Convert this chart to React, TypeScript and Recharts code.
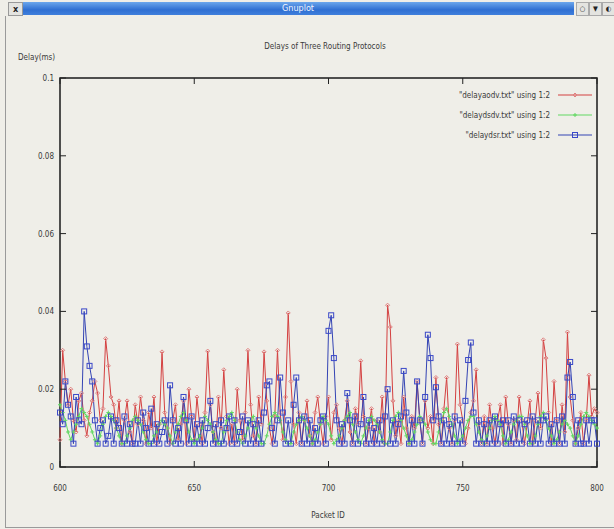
import { LineChart, Line, XAxis, YAxis, ReferenceArea, Legend } from "recharts";

const packetIds = [
  600, 601, 602, 603, 604, 605, 606, 607, 608, 609,
  610, 611, 612, 613, 614, 615, 616, 617, 618, 619,
  620, 621, 622, 623, 624, 625, 626, 627, 628, 629,
  630, 631, 632, 633, 634, 635, 636, 637, 638, 639,
  640, 641, 642, 643, 644, 645, 646, 647, 648, 649,
  650, 651, 652, 653, 654, 655, 656, 657, 658, 659,
  660, 661, 662, 663, 664, 665, 666, 667, 668, 669,
  670, 671, 672, 673, 674, 675, 676, 677, 678, 679,
  680, 681, 682, 683, 684, 685, 686, 687, 688, 689,
  690, 691, 692, 693, 694, 695, 696, 697, 698, 699,
  700, 701, 702, 703, 704, 705, 706, 707, 708, 709,
  710, 711, 712, 713, 714, 715, 716, 717, 718, 719,
  720, 721, 722, 723, 724, 725, 726, 727, 728, 729,
  730, 731, 732, 733, 734, 735, 736, 737, 738, 739,
  740, 741, 742, 743, 744, 745, 746, 747, 748, 749,
  750, 751, 752, 753, 754, 755, 756, 757, 758, 759,
  760, 761, 762, 763, 764, 765, 766, 767, 768, 769,
  770, 771, 772, 773, 774, 775, 776, 777, 778, 779,
  780, 781, 782, 783, 784, 785, 786, 787, 788, 789,
  790, 791, 792, 793, 794, 795, 796, 797, 798, 799,
  800,
];

const aodvDelays = [
  0.007, 0.030, 0.022, 0.016, 0.020, 0.012, 0.009, 0.017, 0.019, 0.012,
  0.008, 0.014, 0.017, 0.022, 0.019, 0.012, 0.015, 0.033, 0.026, 0.018,
  0.016, 0.010, 0.017, 0.006, 0.012, 0.017, 0.009, 0.006, 0.016, 0.011,
  0.018, 0.012, 0.006, 0.014, 0.010, 0.018, 0.006, 0.011, 0.0296, 0.014,
  0.010, 0.006, 0.012, 0.016, 0.007, 0.011, 0.017, 0.006, 0.020, 0.013,
  0.007, 0.018, 0.011, 0.006, 0.014, 0.0298, 0.016, 0.009, 0.006, 0.018,
  0.010, 0.025, 0.013, 0.006, 0.011, 0.006, 0.020, 0.012, 0.007, 0.014,
  0.030, 0.016, 0.008, 0.006, 0.018, 0.011, 0.0296, 0.017, 0.010, 0.006,
  0.013, 0.030, 0.014, 0.007, 0.018, 0.0396, 0.022, 0.011, 0.006, 0.014,
  0.006, 0.012, 0.017, 0.008, 0.006, 0.014, 0.018, 0.011, 0.006, 0.013,
  0.018, 0.007, 0.014, 0.016, 0.010, 0.006, 0.012, 0.017, 0.009, 0.006,
  0.015, 0.011, 0.0273, 0.013, 0.006, 0.010, 0.015, 0.006, 0.012, 0.009,
  0.018, 0.006, 0.0416, 0.036, 0.017, 0.008, 0.012, 0.006, 0.018, 0.010,
  0.006, 0.013, 0.010, 0.022, 0.012, 0.006, 0.017, 0.010, 0.013, 0.006,
  0.023, 0.011, 0.006, 0.015, 0.023, 0.010, 0.006, 0.012, 0.0316, 0.016,
  0.012, 0.006, 0.010, 0.014, 0.017, 0.025, 0.011, 0.006, 0.013, 0.006,
  0.016, 0.010, 0.006, 0.012, 0.016, 0.006, 0.018, 0.011, 0.006, 0.012,
  0.007, 0.018, 0.012, 0.006, 0.011, 0.017, 0.006, 0.012, 0.019, 0.010,
  0.0327, 0.028, 0.014, 0.006, 0.022, 0.012, 0.006, 0.016, 0.009, 0.0347,
  0.018, 0.012, 0.006, 0.010, 0.014, 0.006, 0.012, 0.0236, 0.013, 0.015,
  0.014,
];

const dsdvDelays = [
  0.016, 0.014, 0.012, 0.009, 0.007, 0.009, 0.011, 0.013, 0.015, 0.014,
  0.013, 0.011, 0.009, 0.007, 0.006, 0.008, 0.011, 0.013, 0.014, 0.013,
  0.012, 0.010, 0.008, 0.006, 0.006, 0.008, 0.010, 0.012, 0.013, 0.012,
  0.011, 0.009, 0.007, 0.006, 0.006, 0.008, 0.009, 0.011, 0.012, 0.011,
  0.010, 0.008, 0.006, 0.009, 0.011, 0.013, 0.014, 0.012, 0.009, 0.007,
  0.006, 0.007, 0.008, 0.010, 0.013, 0.012, 0.011, 0.009, 0.007, 0.006,
  0.006, 0.009, 0.012, 0.013, 0.014, 0.012, 0.009, 0.007, 0.006, 0.008,
  0.010, 0.012, 0.013, 0.010, 0.008, 0.006, 0.006, 0.008, 0.011, 0.013,
  0.014, 0.013, 0.012, 0.009, 0.007, 0.006, 0.006, 0.009, 0.011, 0.012,
  0.013, 0.012, 0.010, 0.008, 0.006, 0.007, 0.009, 0.011, 0.013, 0.012,
  0.011, 0.008, 0.006, 0.007, 0.008, 0.010, 0.012, 0.013, 0.014, 0.011,
  0.009, 0.007, 0.006, 0.008, 0.010, 0.012, 0.013, 0.012, 0.011, 0.009,
  0.007, 0.006, 0.006, 0.009, 0.012, 0.013, 0.014, 0.012, 0.010, 0.008,
  0.006, 0.007, 0.009, 0.011, 0.013, 0.012, 0.011, 0.009, 0.007, 0.006,
  0.006, 0.009, 0.012, 0.014, 0.015, 0.013, 0.011, 0.008, 0.006, 0.007,
  0.008, 0.010, 0.012, 0.013, 0.013, 0.011, 0.009, 0.007, 0.006, 0.008,
  0.010, 0.012, 0.013, 0.012, 0.011, 0.008, 0.006, 0.007, 0.009, 0.011,
  0.012, 0.013, 0.013, 0.011, 0.008, 0.006, 0.006, 0.008, 0.011, 0.013,
  0.014, 0.012, 0.010, 0.008, 0.006, 0.007, 0.009, 0.011, 0.012, 0.011,
  0.010, 0.008, 0.006, 0.008, 0.011, 0.013, 0.014, 0.013, 0.012, 0.011,
  0.010,
];

const dsrDelays = [
  0.014, 0.011, 0.022, 0.016, 0.013, 0.006, 0.018, 0.012, 0.011, 0.040,
  0.031, 0.026, 0.022, 0.012, 0.006, 0.010, 0.012, 0.006, 0.008, 0.013,
  0.006, 0.012, 0.010, 0.006, 0.013, 0.006, 0.011, 0.006, 0.006, 0.012,
  0.006, 0.014, 0.010, 0.006, 0.015, 0.006, 0.011, 0.006, 0.009, 0.012,
  0.006, 0.021, 0.012, 0.006, 0.010, 0.006, 0.018, 0.012, 0.006, 0.013,
  0.006, 0.011, 0.006, 0.012, 0.006, 0.010, 0.017, 0.006, 0.011, 0.006,
  0.012, 0.006, 0.010, 0.013, 0.006, 0.012, 0.006, 0.009, 0.013, 0.006,
  0.012, 0.006, 0.011, 0.006, 0.012, 0.006, 0.014, 0.021, 0.022, 0.010,
  0.006, 0.012, 0.023, 0.014, 0.006, 0.012, 0.006, 0.016, 0.023, 0.012,
  0.006, 0.013, 0.006, 0.012, 0.006, 0.010, 0.006, 0.012, 0.013, 0.006,
  0.035, 0.039, 0.028, 0.012, 0.006, 0.011, 0.006, 0.019, 0.012, 0.006,
  0.013, 0.006, 0.011, 0.018, 0.006, 0.012, 0.006, 0.010, 0.006, 0.012,
  0.006, 0.013, 0.020, 0.006, 0.012, 0.006, 0.011, 0.013, 0.0247, 0.014,
  0.006, 0.012, 0.006, 0.022, 0.012, 0.006, 0.018, 0.034, 0.028, 0.012,
  0.0205, 0.013, 0.006, 0.012, 0.006, 0.011, 0.006, 0.013, 0.006, 0.012,
  0.006, 0.017, 0.0275, 0.032, 0.014, 0.006, 0.012, 0.006, 0.011, 0.006,
  0.012, 0.006, 0.013, 0.006, 0.011, 0.012, 0.006, 0.012, 0.006, 0.013,
  0.006, 0.012, 0.006, 0.011, 0.012, 0.006, 0.013, 0.006, 0.012, 0.006,
  0.012, 0.013, 0.006, 0.011, 0.006, 0.012, 0.006, 0.013, 0.006, 0.023,
  0.027, 0.018, 0.006, 0.012, 0.006, 0.006, 0.012, 0.006, 0.012, 0.012,
  0.006,
];

const xTicks = [600, 650, 700, 750, 800];
const yTicks = [0, 0.02, 0.04, 0.06, 0.08, 0.1];
const seriesNames = [
  '"delayaodv.txt" using 1:2',
  '"delaydsdv.txt" using 1:2',
  '"delaydsr.txt" using 1:2',
];

const data = packetIds.map((id, i) => ({
  id,
  aodv: aodvDelays[i],
  dsdv: dsdvDelays[i],
  dsr: dsrDelays[i],
}));

// plot box edges (gnuplot draws ticks inward and mirrored)
const TOP = 78;
const BOTTOM = 467;
const LEFT = 60;
const RIGHT = 597;

const FONT = '"Liberation Sans Narrow", "DejaVu Sans Condensed", sans-serif';
const TEXT = "#3a3a3a";
const RED = "#d44040";
const GREEN = "#62d862";
const BLUE = "#3444b4";

function XTick(props: any) {
  const { x, payload } = props;
  return (
    <g>
      <line x1={x} x2={x} y1={BOTTOM} y2={BOTTOM - 6} stroke="#222" />
      <line x1={x} x2={x} y1={TOP} y2={TOP + 6} stroke="#222" />
      <text x={x} y={BOTTOM + 24} textAnchor="middle" fontSize={8} fill={TEXT} fontFamily={FONT}>
        {payload.value}
      </text>
    </g>
  );
}

function YTick(props: any) {
  const { y, payload } = props;
  return (
    <g>
      <line x1={LEFT} x2={LEFT + 6} y1={y} y2={y} stroke="#222" />
      <line x1={RIGHT} x2={RIGHT - 6} y1={y} y2={y} stroke="#222" />
      <text x={LEFT - 6} y={y + 3} textAnchor="end" fontSize={8} fill={TEXT} fontFamily={FONT}>
        {String(payload.value)}
      </text>
    </g>
  );
}

function aodvDot(p: any) {
  return (
    <path
      key={`a${p.index}`}
      d={`M${p.cx},${p.cy - 2}L${p.cx + 2},${p.cy}L${p.cx},${p.cy + 2}L${p.cx - 2},${p.cy}Z`}
      fill="none"
      stroke="#e08080"
      strokeWidth={1}
    />
  );
}

function dsdvDot(p: any) {
  return (
    <path
      key={`d${p.index}`}
      d={`M${p.cx - 2},${p.cy}H${p.cx + 2}M${p.cx},${p.cy - 2}V${p.cy + 2}`}
      stroke={GREEN}
      strokeWidth={1}
    />
  );
}

function dsrDot(p: any) {
  return (
    <rect
      key={`s${p.index}`}
      x={p.cx - 2.5}
      y={p.cy - 2.5}
      width={5}
      height={5}
      fill="none"
      stroke="#3a48c8"
      strokeWidth={1}
    />
  );
}

function LegendBox() {
  const colors = [RED, GREEN, BLUE];
  return (
    <div style={{ fontFamily: FONT, fontSize: 8, color: TEXT }}>
      {seriesNames.map((name, i) => (
        <div key={name} style={{ display: "flex", alignItems: "center", justifyContent: "flex-end", height: 20 }}>
          <span style={{ marginRight: 8 }}>{name}</span>
          <svg width={34} height={8}>
            <line x1={0} x2={34} y1={4} y2={4} stroke={colors[i]} strokeWidth={1.2} />
            {i === 0 && <path d="M17,2L19,4L17,6L15,4Z" fill="none" stroke="#e08080" />}
            {i === 1 && <path d="M15,4H19M17,2V6" stroke={GREEN} />}
            {i === 2 && <rect x={14.5} y={1.5} width={5} height={5} fill="none" stroke="#3a48c8" />}
          </svg>
        </div>
      ))}
    </div>
  );
}

export default function App() {
  return (
    <div
      style={{
        position: "absolute",
        left: 0,
        top: 0,
        width: 614,
        height: 529,
        background: "#efeee8",
        overflow: "hidden",
        fontFamily: FONT,
      }}
    >
      {/* window title bar */}
      <div
        style={{
          position: "absolute",
          left: 22,
          top: 2,
          width: 552,
          height: 13,
          background: "linear-gradient(#6aa6ec, #2f6fd2 60%, #3f7fdc)",
          color: "#eef4ff",
          fontSize: 9,
          textAlign: "center",
          lineHeight: "13px",
        }}
      >
        Gnuplot
      </div>
      <div
        style={{
          position: "absolute",
          left: 8,
          top: 2,
          width: 13,
          height: 12,
          background: "#e4e4e0",
          border: "1px solid #999",
          fontSize: 9,
          fontWeight: "bold",
          textAlign: "center",
          lineHeight: "12px",
          color: "#222",
        }}
      >
        x
      </div>
      {["○", "▼", "◐"].map((s, i) => (
        <div
          key={s}
          style={{
            position: "absolute",
            left: 576 + i * 13,
            top: 2,
            width: 11,
            height: 12,
            background: "#e4e4e0",
            border: "1px solid #aaa",
            fontSize: 7,
            textAlign: "center",
            lineHeight: "12px",
            color: "#222",
          }}
        >
          {s}
        </div>
      ))}
      {/* window frame */}
      <div
        style={{
          position: "absolute",
          left: 5,
          top: 16,
          width: 620,
          height: 511,
          borderLeft: "1px solid #9a9a9a",
          borderBottom: "1px solid #9a9a9a",
        }}
      />
      <div
        style={{
          position: "absolute",
          left: 0,
          width: 650,
          top: 42,
          textAlign: "center",
          fontSize: 8,
          color: TEXT,
        }}
      >
        Delays of Three Routing Protocols
      </div>
      <div style={{ position: "absolute", left: 18, top: 53, fontSize: 8, color: TEXT }}>Delay(ms)</div>
      <div
        style={{
          position: "absolute",
          left: 0,
          width: 656,
          top: 511,
          textAlign: "center",
          fontSize: 8,
          color: TEXT,
        }}
      >
        Packet ID
      </div>

      <div style={{ position: "absolute", left: 0, top: 0 }}>
        <LineChart width={614} height={529} data={data} margin={{ top: TOP, right: 614 - RIGHT, bottom: 32, left: 0 }}>
          <XAxis
            dataKey="id"
            type="number"
            domain={[600, 800]}
            ticks={xTicks}
            height={30}
            tickSize={0}
            tickMargin={0}
            tickLine={false}
            axisLine={false}
            tick={<XTick />}
            interval={0}
          />
          <YAxis
            type="number"
            domain={[0, 0.1]}
            ticks={yTicks}
            width={LEFT}
            tickSize={0}
            tickMargin={0}
            tickLine={false}
            axisLine={false}
            tick={<YTick />}
            interval={0}
          />
          <ReferenceArea x1={600} x2={800} y1={0} y2={0.1} fill="none" stroke="#1a1a1a" strokeWidth={1.5} ifOverflow="visible" />
          <Legend
            layout="horizontal"
            verticalAlign="middle"
            align="center"
            content={<LegendBox />}
            wrapperStyle={{ top: 85, left: 360, width: 232 }}
          />
          <Line dataKey="aodv" name={seriesNames[0]} stroke={RED} strokeWidth={1} dot={aodvDot} isAnimationActive={false} />
          <Line dataKey="dsdv" name={seriesNames[1]} stroke={GREEN} strokeWidth={1} dot={dsdvDot} isAnimationActive={false} />
          <Line dataKey="dsr" name={seriesNames[2]} stroke={BLUE} strokeWidth={1} dot={dsrDot} isAnimationActive={false} />
        </LineChart>
      </div>
    </div>
  );
}
